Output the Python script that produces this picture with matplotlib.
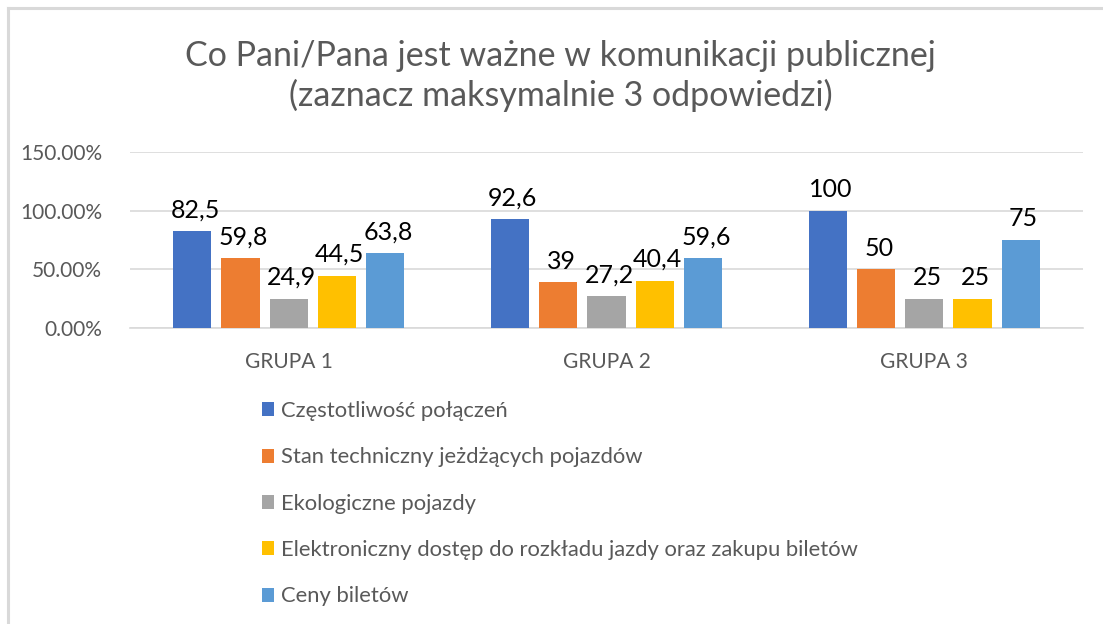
import matplotlib
matplotlib.use("Agg")
import matplotlib.pyplot as plt
import numpy as np
from matplotlib.patches import Patch
from matplotlib.lines import Line2D
from matplotlib.ticker import FuncFormatter

plt.rcParams['font.family'] = ['Lato', 'DejaVu Sans']

title = "Co Pani/Pana jest ważne w komunikacji publicznej\n(zaznacz maksymalnie 3 odpowiedzi)"
groups = ["GRUPA 1", "GRUPA 2", "GRUPA 3"]
series_names = [
    "Częstotliwość połączeń",
    "Stan techniczny jeżdżących pojazdów",
    "Ekologiczne pojazdy",
    "Elektroniczny dostęp do rozkładu jazdy oraz zakupu biletów",
    "Ceny biletów",
]
czestotliwosc = [82.5, 92.6, 100]
stan_techniczny = [59.8, 39, 50]
ekologiczne = [24.9, 27.2, 25]
elektroniczny = [44.5, 40.4, 25]
ceny = [63.8, 59.6, 75]
series_values = [czestotliwosc, stan_techniczny, ekologiczne, elektroniczny, ceny]
colors = ["#4472C4", "#ED7D31", "#A5A5A5", "#FFC000", "#5B9BD5"]

W, H = 1103, 624
fig = plt.figure(figsize=(W / 100, H / 100), dpi=100)
ax = fig.add_axes([130 / W, 1 - 328 / H, (1083 - 130) / W, (328 - 152) / H])

x = np.arange(len(groups))
slot = 0.152
bw = 0.12
for i, (vals, c) in enumerate(zip(series_values, colors)):
    pos = x + (i - 2) * slot
    fr = [v / 100 for v in vals]
    bars = ax.bar(pos, fr, width=bw, color=c, zorder=3)
    for b, v in zip(bars, vals):
        lab = f"{v:g}".replace('.', ',')
        ax.annotate(lab, (b.get_x() + b.get_width() / 2, b.get_height()),
                    xytext=(2, 7), textcoords="offset points",
                    ha="center", va="bottom", fontsize=18, color="#000000")

ax.set_xlim(-0.5, 2.5)
ax.set_ylim(0, 1.5)
ax.set_yticks([0, 0.5, 1.0, 1.5])
ax.yaxis.set_major_formatter(FuncFormatter(lambda v, p: f"{v*100:.2f}%"))
ax.set_xticks(x)
ax.set_xticklabels(groups)
ax.tick_params(axis='both', length=0, colors="#595959", labelsize=15)
ax.tick_params(axis='x', pad=17)
ax.tick_params(axis='y', pad=20)
ax.grid(axis='y', color="#D9D9D9", linewidth=1.2, zorder=0)
for s in ['top', 'right', 'left']:
    ax.spines[s].set_visible(False)
ax.spines['bottom'].set_color("#D9D9D9")
ax.spines['bottom'].set_linewidth(1.2)
ax.set_facecolor('none')

fig.text(0.508, 1 - 76 / H, title, ha="center", va="center", fontsize=24.5,
         color="#595959", linespacing=1.26)

handles = [Patch(facecolor=c) for c in colors]
fig.legend(handles, series_names, loc="upper left",
           bbox_to_anchor=(262 / W, 1 - 401 / H), frameon=False,
           fontsize=15.8, labelcolor="#595959", handlelength=0.55,
           handleheight=0.6, handletextpad=0.3, labelspacing=1.2,
           borderaxespad=0, borderpad=0)

border = "#D9D9D9"
fig.add_artist(Line2D([8 / W, 8 / W], [1 - 8 / H, 0], color=border, lw=2.2,
                      transform=fig.transFigure))
fig.add_artist(Line2D([8 / W, 1], [1 - 8 / H, 1 - 8 / H], color=border, lw=2.2,
                      transform=fig.transFigure))

fig.savefig("out.png", dpi=100)
